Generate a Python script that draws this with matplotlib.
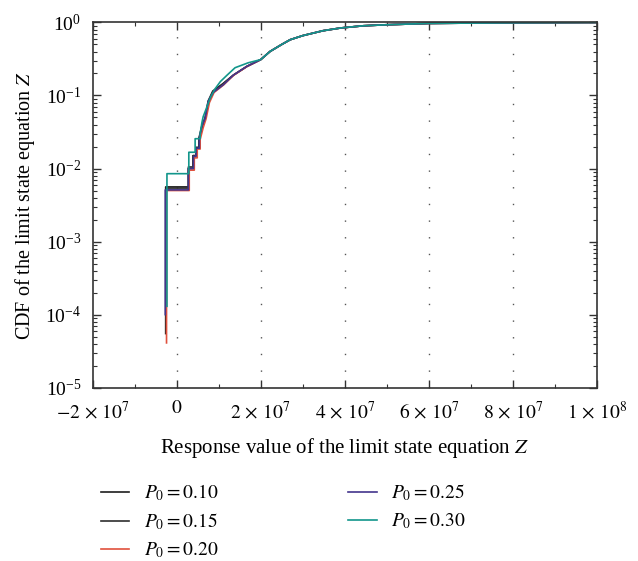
import matplotlib
matplotlib.use("Agg")
import matplotlib.pyplot as plt
from matplotlib.ticker import FixedLocator, MultipleLocator, LogLocator, NullFormatter

plt.rcParams["font.family"] = ["Liberation Serif", "DejaVu Serif"]
plt.rcParams["mathtext.fontset"] = "stix"

labels = [r"$P_0 = 0.10$", r"$P_0 = 0.15$", r"$P_0 = 0.20$", r"$P_0 = 0.25$", r"$P_0 = 0.30$"]
colors = ["#1e1e1e", "#2e2e2e", "#e0503c", "#43358c", "#12968b"]

z_010 = [-2.6e6, -2.6e6, 2.8e6, 2.8e6, 3.9e6, 3.9e6, 4.6e6, 4.6e6, 5.3e6, 5.3e6, 6.0e6, 6.8e6,
         7.5e6, 8.6e6, 1.1e7, 1.35e7, 1.67e7, 2.0e7, 2.22e7, 2.5e7, 2.7e7, 3.0e7, 3.48e7,
         3.9e7, 4.44e7, 5.0e7, 6.0e7, 7.0e7, 8.0e7, 1.0e8]
F_010 = [5.5e-5, 5.6e-3, 5.6e-3, 1.0e-2, 1.0e-2, 1.5e-2, 1.5e-2, 1.95e-2, 1.95e-2, 2.6e-2, 3.8e-2, 5.0e-2,
         8.4e-2, 0.115, 0.145, 0.19, 0.25, 0.31, 0.40, 0.50, 0.58, 0.66, 0.77,
         0.84, 0.90, 0.93, 0.97, 0.98, 0.99, 1.0]

z_015 = [-2.5e6, -2.5e6, 2.8e6, 2.8e6, 3.9e6, 3.9e6, 4.7e6, 4.7e6, 5.4e6, 5.4e6, 6.1e6, 6.8e6,
         7.6e6, 8.7e6, 1.1e7, 1.35e7, 1.67e7, 2.0e7, 2.22e7, 2.5e7, 2.7e7, 3.0e7, 3.48e7,
         3.9e7, 4.44e7, 5.0e7, 6.0e7, 7.0e7, 8.0e7, 1.0e8]
F_015 = [1.1e-4, 5.4e-3, 5.4e-3, 1.05e-2, 1.05e-2, 1.5e-2, 1.5e-2, 1.9e-2, 1.9e-2, 2.6e-2, 3.7e-2, 4.9e-2,
         8.2e-2, 0.112, 0.143, 0.19, 0.25, 0.31, 0.40, 0.50, 0.58, 0.66, 0.77,
         0.84, 0.90, 0.93, 0.97, 0.98, 0.99, 1.0]

z_020 = [-2.4e6, -2.4e6, 3.0e6, 3.0e6, 4.2e6, 4.2e6, 4.9e6, 4.9e6, 5.6e6, 5.6e6, 6.3e6, 7.0e6,
         7.8e6, 8.9e6, 1.12e7, 1.36e7, 1.68e7, 2.0e7, 2.22e7, 2.5e7, 2.7e7, 3.0e7, 3.48e7,
         3.9e7, 4.44e7, 5.0e7, 6.0e7, 7.0e7, 8.0e7, 1.0e8]
F_020 = [4.1e-5, 5.0e-3, 5.0e-3, 9.5e-3, 9.5e-3, 1.4e-2, 1.4e-2, 1.85e-2, 1.85e-2, 2.5e-2, 3.6e-2, 4.8e-2,
         8.0e-2, 0.11, 0.14, 0.19, 0.25, 0.31, 0.40, 0.50, 0.58, 0.66, 0.77,
         0.84, 0.90, 0.93, 0.97, 0.98, 0.99, 1.0]

z_025 = [-2.7e6, -2.7e6, 2.8e6, 2.8e6, 4.0e6, 4.0e6, 4.6e6, 4.6e6, 5.4e6, 5.4e6, 6.0e6, 6.8e6,
         7.5e6, 8.7e6, 1.11e7, 1.35e7, 1.67e7, 2.0e7, 2.22e7, 2.5e7, 2.7e7, 3.0e7, 3.48e7,
         3.9e7, 4.44e7, 5.0e7, 6.0e7, 7.0e7, 8.0e7, 1.0e8]
F_025 = [1.0e-4, 5.1e-3, 5.1e-3, 1.0e-2, 1.0e-2, 1.47e-2, 1.47e-2, 1.9e-2, 1.9e-2, 2.6e-2, 3.8e-2, 4.9e-2,
         8.3e-2, 0.11, 0.14, 0.19, 0.25, 0.31, 0.40, 0.50, 0.58, 0.66, 0.77,
         0.84, 0.90, 0.93, 0.97, 0.98, 0.99, 1.0]

z_030 = [-2.3e6, -2.3e6, 2.9e6, 2.9e6, 4.4e6, 4.4e6, 5.6e6, 5.6e6, 6.0e6, 6.3e6, 7.0e6, 8.0e6,
         9.0e6, 1.04e7, 1.2e7, 1.39e7, 1.7e7, 2.0e7, 2.22e7, 2.5e7, 2.7e7, 3.0e7, 3.48e7,
         3.9e7, 4.44e7, 5.0e7, 6.0e7, 7.0e7, 8.0e7, 1.0e8]
F_030 = [1.3e-4, 8.5e-3, 8.5e-3, 1.67e-2, 1.67e-2, 2.56e-2, 2.56e-2, 3.0e-2, 4.2e-2, 5.1e-2, 6.5e-2, 9.3e-2,
         0.12, 0.155, 0.19, 0.24, 0.28, 0.31, 0.40, 0.50, 0.58, 0.66, 0.77,
         0.84, 0.90, 0.93, 0.97, 0.98, 0.99, 1.0]

series = [(z_010, F_010), (z_015, F_015), (z_020, F_020), (z_025, F_025), (z_030, F_030)]

xticks = [-2e7, 0, 2e7, 4e7, 6e7, 8e7, 1e8]
xticklabels = [r"$-2\,\times\,10^{7}$", r"$0$", r"$2\,\times\,10^{7}$", r"$4\,\times\,10^{7}$",
               r"$6\,\times\,10^{7}$", r"$8\,\times\,10^{7}$", r"$1\,\times\,10^{8}$"]

fig = plt.figure(figsize=(6.38, 5.61), dpi=100)
ax = fig.add_axes([0.145, 0.309, 0.791, 0.651])

for (z, F), lab, c in zip(series, labels, colors):
    ax.plot(z, F, color=c, lw=1.2, label=lab)

ax.set_yscale("log")
ax.set_xlim(-2e7, 1e8)
ax.set_ylim(1e-5, 1)
ax.xaxis.set_major_locator(FixedLocator(xticks))
ax.set_xticklabels(xticklabels)
ax.xaxis.set_minor_locator(MultipleLocator(1e7))
ax.yaxis.set_major_locator(LogLocator(base=10, numticks=10))
ax.yaxis.set_minor_locator(LogLocator(base=10, subs=range(2, 10), numticks=10))
ax.yaxis.set_minor_formatter(NullFormatter())

ax.tick_params(which="both", direction="in", top=True, right=True, labelsize=14, color="#333333")
ax.tick_params(which="major", length=6, width=1)
ax.tick_params(which="minor", length=3, width=0.8)
ax.tick_params(axis="y", which="major", pad=8)
ax.tick_params(axis="x", which="major", pad=9)
for s in ax.spines.values():
    s.set_color("#333333")
    s.set_linewidth(1.2)

for x in xticks[1:-1]:
    ax.axvline(x, color="#555555", lw=1, ls=(0, (1, 11)), zorder=0)

ax.set_xlabel(r"Response value of the limit state equation $Z$", fontsize=15, labelpad=10)
ax.set_ylabel(r"CDF of the limit state equation $Z$", fontsize=14.5, labelpad=6)

fig.legend(loc="upper left", bbox_to_anchor=(0.143, 0.157), bbox_transform=fig.transFigure,
           ncol=2, frameon=False, fontsize=14, borderpad=0, handlelength=1.45, handletextpad=0.75,
           columnspacing=6.7, labelspacing=0.42)

fig.savefig("out.png", dpi=100)
